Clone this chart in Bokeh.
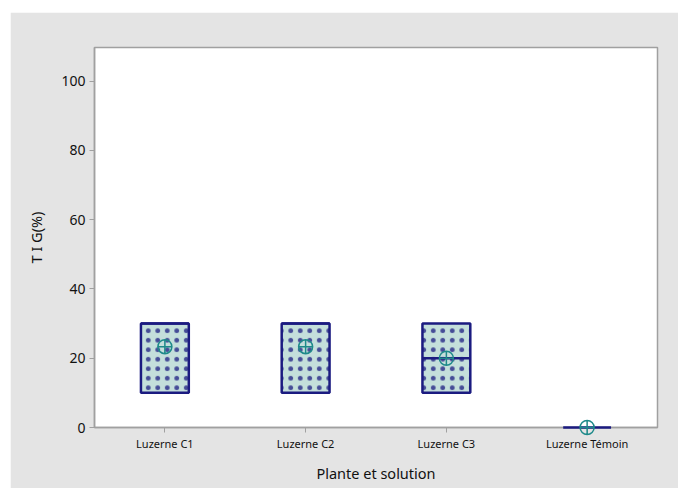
from bokeh.plotting import figure
from bokeh.embed import file_html
from bokeh.resources import INLINE
from bokeh.models import FixedTicker, Range1d, ColumnDataSource

categories = ["Luzerne C1", "Luzerne C2", "Luzerne C3", "Luzerne Témoin"]
q1 = [10, 10, 10, 0]
median = [30, 30, 20, 0]
q3 = [30, 30, 30, 0]
mean = [23.33, 23.33, 20.0, 0.0]
y_ticks = [0, 20, 40, 60, 80, 100]

xs = [i + 0.5 for i in range(len(categories))]
bw = 0.34

p = figure(width=668, height=476, output_backend="svg", toolbar_location=None,
           x_range=Range1d(0, len(categories)), y_range=Range1d(0, 109.7),
           min_border_left=84, min_border_top=35, min_border_right=21, min_border_bottom=61)
p.margin = (12, 0, 0, 10)
p.background_fill_color = "white"
p.border_fill_color = "#E4E4E4"
p.outline_line_color = "#A0A0A0"
p.outline_line_width = 1.5
p.grid.visible = False

box_idx = [i for i in range(len(categories)) if q3[i] > q1[i]]
src = ColumnDataSource(dict(
    x=[xs[i] for i in box_idx],
    top=[q3[i] for i in box_idx],
    bottom=[q1[i] for i in box_idx],
))
p.vbar(x="x", top="top", bottom="bottom", width=bw, source=src,
       fill_color="#C4DFDB", line_color="#1B1B80", line_width=2.5,
       hatch_pattern="dot", hatch_color="#1B1B80", hatch_scale=9.5,
       hatch_weight=1, hatch_alpha=0.75)

seg = p.segment(x0=[x - bw / 2 for x in xs], x1=[x + bw / 2 for x in xs],
                y0=median, y1=median, line_color="#1B1B80", line_width=2.5)
seg.level = "overlay"

sc = p.scatter(x=xs, y=mean, marker="circle_cross", size=14, fill_color=None,
               line_color="#1E8A8A", line_width=1.5)
sc.level = "overlay"

p.xaxis.ticker = FixedTicker(ticks=xs)
p.xaxis.major_label_overrides = {x: c for x, c in zip(xs, categories)}
p.yaxis.ticker = FixedTicker(ticks=y_ticks)
p.xaxis.minor_tick_line_color = None
p.yaxis.minor_tick_line_color = None
for ax in (p.xaxis, p.yaxis):
    ax.axis_line_color = "#A0A0A0"
    ax.axis_line_width = 1.5
    ax.major_tick_line_color = "#A0A0A0"
    ax.major_tick_out = 5
    ax.major_tick_in = 0
    ax.major_label_text_font = "Noto Sans"
    ax.major_label_text_color = "#111111"
    ax.axis_label_text_font = "Noto Sans"
    ax.axis_label_text_font_style = "normal"
    ax.axis_label_text_color = "#111111"
    ax.axis_label_text_font_size = "14.5px"

p.xaxis.major_label_text_font_size = "11px"
p.yaxis.major_label_text_font_size = "14px"
p.xaxis.major_label_standoff = 3
p.yaxis.major_label_standoff = 4
p.xaxis.axis_label = "Plante et solution"
p.yaxis.axis_label = "T I G(%)"
p.xaxis.axis_label_standoff = 9
p.yaxis.axis_label_standoff = 12

open("out.html", "w").write(file_html(p, INLINE))
